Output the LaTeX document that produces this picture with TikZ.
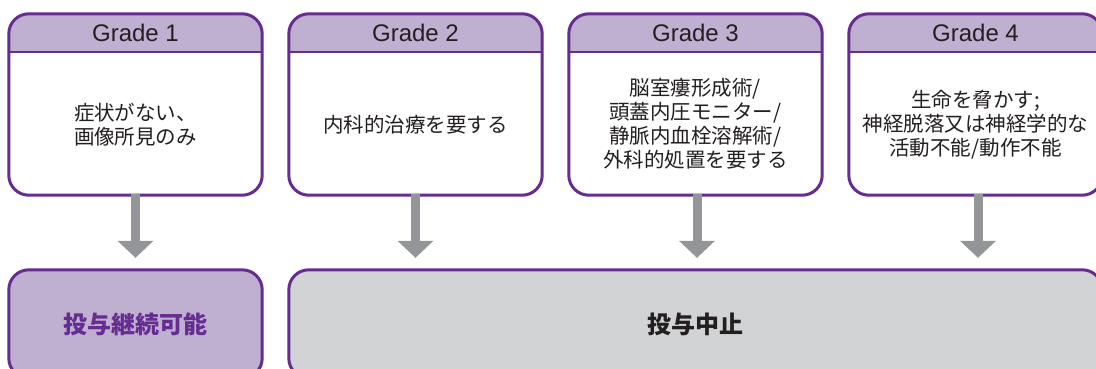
\documentclass[tikz,border=0pt]{standalone}
\usepackage{fontspec}
\setmainfont{Noto Sans CJK JP}
\newfontfamily\lat{Liberation Sans}
\usetikzlibrary{arrows.meta}
\definecolor{pur}{HTML}{662D91}
\definecolor{hdr}{HTML}{BFAFD1}
\definecolor{gbx}{HTML}{D1D3D4}
\definecolor{arrg}{HTML}{939598}
\definecolor{txt}{HTML}{231F20}
\tikzset{
  gbox/.style={rectangle, minimum width=253pt, minimum height=181pt, inner sep=0pt},
  border/.style={draw=pur, line width=3pt, rounded corners=20pt},
  hdrtext/.style={font=\lat\fontsize{24}{26}\selectfont, text=txt},
  bodytext/.style={font=\fontsize{20.5}{24}\selectfont, text=txt, align=center},
  arr/.style={draw=arrg, line width=9pt, -{Triangle[length=17pt,width=35pt]}},
  restext/.style={font=\bfseries\fontsize{24}{26}\selectfont}
}
\begin{document}
\begin{tikzpicture}[x=1pt,y=-1pt]
\useasboundingbox (0,0) rectangle (1096,369);
\clip (0,0) rectangle (1096,369);
% top boxes
\foreach \n/\cx in {1/135.5, 2/415.5, 3/695.5, 4/975.5}{
  \node[gbox] (g\n) at (\cx,104.5) {};
  \begin{scope}
    \clip[rounded corners=20pt] (g\n.north west) rectangle (g\n.south east);
    \fill[white] (g\n.north west) rectangle (g\n.south east);
    \fill[hdr] (g\n.north west) rectangle ([yshift=-38pt]g\n.north east);
  \end{scope}
  \draw[pur, line width=1.5pt] ([yshift=-38pt]g\n.north west) -- ([yshift=-38pt]g\n.north east);
  \draw[border] (g\n.north west) rectangle (g\n.south east);
}
\node[hdrtext] (h1) at ([yshift=-19pt]g1.north) {Grade 1};
\node[hdrtext] (h2) at ([yshift=-19pt]g2.north) {Grade 2};
\node[hdrtext] (h3) at ([yshift=-19pt]g3.north) {Grade 3};
\node[hdrtext] (h4) at ([yshift=-19pt]g4.north) {Grade 4};
\node[bodytext] (t1) at (135.5,124.5) {症状がない、\\画像所見のみ};
\node[bodytext] (t2) at (415.5,124.5) {内科的治療を要する};
\node[bodytext] (t3) at (695.5,123.5) {脳室瘻形成術/\\頭蓋内圧モニター/\\静脈内血栓溶解術/\\外科的処置を要する};
\node[bodytext] (t4) at (975.5,124.5) {生命を脅かす;\\神経脱落又は神経学的な\\活動不能/動作不能};
% bottom boxes
\node[rectangle, minimum width=253pt, minimum height=108pt, inner sep=0pt] (b1) at (135.5,324) {};
\node[rectangle, minimum width=813pt, minimum height=108pt, inner sep=0pt] (b2) at (695.5,324) {};
\draw[border, fill=hdr] (b1.north west) rectangle (b1.south east);
\draw[border, fill=gbx] (b2.north west) rectangle (b2.south east);
\node[restext, text=pur] (r1) at (b1.center) {投与継続可能};
\node[restext, text=txt] (r2) at (b2.center) {投与中止};
% arrows
\draw[arr] ([yshift=1.5pt]g1.south) -- ([yshift=12pt]g1.south |- b1.north);
\draw[arr] ([yshift=1.5pt]g2.south) -- ([yshift=12pt]g2.south |- b2.north);
\draw[arr] ([xshift=1.5pt,yshift=1.5pt]g3.south) -- ([xshift=1.5pt,yshift=12pt]g3.south |- b2.north);
\draw[arr] ([xshift=2.5pt,yshift=1.5pt]g4.south) -- ([xshift=2.5pt,yshift=12pt]g4.south |- b2.north);
\end{tikzpicture}
\end{document}
